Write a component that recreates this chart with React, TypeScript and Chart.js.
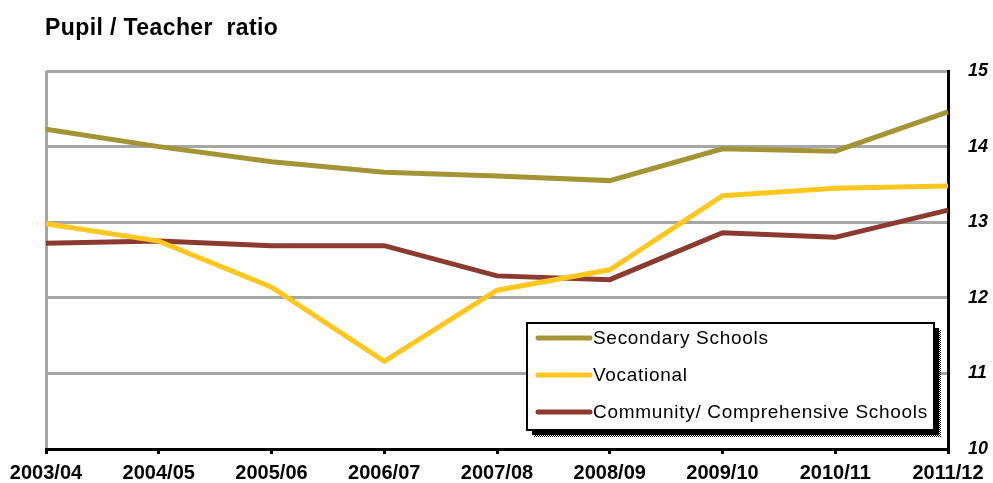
import React, { useEffect, useRef } from "react";
import { Chart, registerables } from "chart.js";

Chart.register(...registerables);

const categories = ["2003/04", "2004/05", "2005/06", "2006/07", "2007/08", "2008/09", "2009/10", "2010/11", "2011/12"];
const secondarySchools = [14.23, 14.0, 13.8, 13.66, 13.61, 13.55, 13.97, 13.94, 14.46];
const vocational = [12.98, 12.75, 12.14, 11.16, 12.1, 12.37, 13.35, 13.45, 13.48];
const community = [12.72, 12.75, 12.69, 12.69, 12.29, 12.24, 12.86, 12.8, 13.16];
const seriesLabels = ["Secondary Schools", "Vocational", "Community/ Comprehensive Schools"];
const titleText = "Pupil / Teacher  ratio";
const yMin = 10;
const yMax = 15;

const FONT = "'Liberation Sans', Arial, sans-serif";
const GRID = "#A6A6A6";

const overlayPlugin = {
  id: "overlay",
  afterDraw(chart: any) {
    const ctx = chart.ctx as CanvasRenderingContext2D;
    const area = chart.chartArea;
    ctx.save();
    // title
    ctx.fillStyle = "#000";
    ctx.font = `bold 23px ${FONT}`;
    (ctx as any).letterSpacing = "0.4px";
    ctx.textBaseline = "alphabetic";
    ctx.textAlign = "left";
    ctx.fillText(titleText, 45, 35);
    (ctx as any).letterSpacing = "0px";

    // legend box
    const w = 407;
    const h = 107;
    const x = area.right - 14 - w;
    const y = area.bottom - 19 - h;
    // dithered shadow
    const pc = document.createElement("canvas");
    pc.width = 2;
    pc.height = 2;
    const pctx = pc.getContext("2d")!;
    pctx.fillStyle = "#000";
    pctx.fillRect(0, 0, 1, 1);
    pctx.fillRect(1, 1, 1, 1);
    const pat = ctx.createPattern(pc, "repeat")!;
    ctx.fillStyle = pat;
    ctx.fillRect(x + 7, y + 7, w, h);
    ctx.fillStyle = "#000";
    ctx.fillRect(x + 5, y + 5, w, h);
    ctx.fillStyle = "#fff";
    ctx.fillRect(x, y, w, h);
    ctx.strokeStyle = "#000";
    ctx.lineWidth = 2;
    ctx.strokeRect(x, y, w, h);

    const ds = chart.data.datasets;
    ctx.font = `19px ${FONT}`;
    (ctx as any).letterSpacing = "0.7px";
    ctx.textBaseline = "middle";
    ds.forEach((d: any, i: number) => {
      const ly = y + 15 + i * 37;
      ctx.strokeStyle = d.borderColor;
      ctx.lineWidth = 5;
      ctx.lineCap = "round";
      ctx.beginPath();
      ctx.moveTo(x + 11, ly);
      ctx.lineTo(x + 63, ly);
      ctx.stroke();
      ctx.fillStyle = "#000";
      ctx.fillText(d.label, x + 66, ly + 1);
    });
    (ctx as any).letterSpacing = "0px";
    ctx.restore();
  },
};

export default function App() {
  const ref = useRef<HTMLCanvasElement>(null);
  useEffect(() => {
    if (!ref.current) return;
    const chart = new Chart(ref.current, {
      type: "line",
      data: {
        labels: categories,
        datasets: [
          { label: seriesLabels[0], data: secondarySchools, borderColor: "#A39535", backgroundColor: "#A39535", borderWidth: 5, pointRadius: 0, tension: 0 },
          { label: seriesLabels[1], data: vocational, borderColor: "#FFC61E", backgroundColor: "#FFC61E", borderWidth: 5, pointRadius: 0, tension: 0 },
          { label: seriesLabels[2], data: community, borderColor: "#8B3A30", backgroundColor: "#8B3A30", borderWidth: 5, pointRadius: 0, tension: 0 },
        ],
      },
      options: {
        responsive: false,
        animation: false,
        layout: { padding: { left: 46, top: 71, right: 0, bottom: 0 } },
        plugins: { legend: { display: false }, title: { display: false }, tooltip: { enabled: false } },
        scales: {
          x: {
            offset: false,
            grid: {
              color: (c: any) => (c.index === 0 ? GRID : "rgba(0,0,0,0)"),
              lineWidth: 3,
              tickColor: "#000",
              tickLength: 5,
              tickWidth: 3,
              drawOnChartArea: true,
            },
            border: { color: "#000", width: 3 },
            ticks: { color: "#000", font: { family: FONT, size: 20, weight: "bold" }, padding: 7, maxRotation: 0, autoSkip: false },
            afterFit: (s: any) => { s.height = 34; },
          },
          y: {
            position: "right",
            min: yMin,
            max: yMax,
            grid: { color: GRID, lineWidth: 3, drawTicks: false },
            border: { color: "#000", width: 3 },
            ticks: { stepSize: 1, color: "#000", font: { family: FONT, size: 18, weight: "bold", style: "italic" }, padding: 20 },
            afterFit: (s: any) => { s.width = 45; },
          },
        },
      },
      plugins: [overlayPlugin],
    });
    return () => chart.destroy();
  }, []);
  return (
    <div style={{ position: "fixed", left: 0, top: 0, width: 993, height: 483, background: "#fff" }}>
      <canvas ref={ref} width={993} height={483} />
    </div>
  );
}
